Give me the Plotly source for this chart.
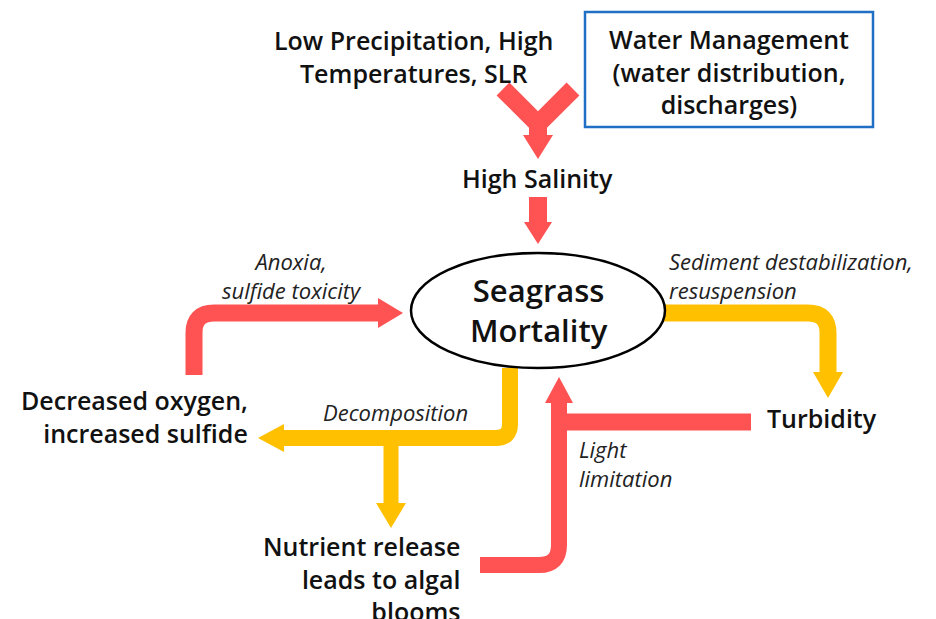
import plotly.graph_objects as go

W, H = 936, 619
OFF = 8  # page body margin offset of the figure in the browser
RED = "#FF5252"
YEL = "#FFC000"
BLUE = "#1F6FC5"
FONT = "Open Sans"

# ---- diagram content (text only) ----
driver_lines = ["Low Precipitation, High", "Temperatures, SLR"]
management_lines = ["Water Management", "(water distribution,", "discharges)"]
salinity_label = "High Salinity"
center_lines = ["Seagrass", "Mortality"]
oxygen_lines = ["Decreased oxygen,", "increased sulfide"]
nutrient_lines = ["Nutrient release", "leads to algal", "blooms"]
turbidity_label = "Turbidity"
anoxia_lines = ["Anoxia,", "sulfide toxicity"]
decomp_lines = ["Decomposition"]
sediment_lines = ["Sediment destabilization,", "resuspension"]
light_lines = ["Light", "limitation"]

fig = go.Figure()
fig.add_trace(go.Scatter(x=[100], y=[100], mode="markers", marker=dict(opacity=0), hoverinfo="skip", showlegend=False))

shapes = []


def rounded_path(pts, r):
    d = f"M {pts[0][0]},{pts[0][1]}"
    for i in range(1, len(pts) - 1):
        (x0, y0), (x1, y1), (x2, y2) = pts[i - 1], pts[i], pts[i + 1]
        def toward(ax, ay, bx, by, dist):
            L = ((bx - ax) ** 2 + (by - ay) ** 2) ** 0.5
            return ax + (bx - ax) * dist / L, ay + (by - ay) * dist / L
        a = toward(x1, y1, x0, y0, r)
        b = toward(x1, y1, x2, y2, r)
        d += f" L {a[0]},{a[1]} Q {x1},{y1} {b[0]},{b[1]}"
    d += f" L {pts[-1][0]},{pts[-1][1]}"
    return d


def stroke(pts, color, width, r=18):
    shapes.append(dict(type="path", path=rounded_path(pts, r), line=dict(color=color, width=width),
                       fillcolor="rgba(0,0,0,0)", xref="x", yref="y", layer="below"))


def head(tip, direction, color, half=15, length=25):
    tx, ty = tip
    dx, dy = direction
    bx, by = tx - dx * length, ty - dy * length
    nx, ny = -dy, dx
    p1 = (bx + nx * half, by + ny * half)
    p2 = (bx - nx * half, by - ny * half)
    shapes.append(dict(type="path", path=f"M {tx},{ty} L {p1[0]},{p1[1]} L {p2[0]},{p2[1]} Z",
                       fillcolor=color, line=dict(width=0), xref="x", yref="y", layer="below"))


def poly(pts, color):
    d = "M " + " L ".join(f"{x},{y}" for x, y in pts) + " Z"
    shapes.append(dict(type="path", path=d, fillcolor=color, line=dict(width=0), xref="x", yref="y", layer="below"))


# Y-shaped merge arrow
poly([(496.6, 95.4), (509.4, 82.6), (538, 111.2), (566.6, 82.6), (579.4, 95.4), (547, 127.8),
      (547, 135), (553, 135), (538, 159), (523, 135), (529, 135), (529, 127.8)], RED)

# Salinity -> mortality
stroke([(538, 197), (538, 222)], RED, 18)
head((538, 244), (0, 1), RED, 14, 22)

# Anoxia arrow (from oxygen up and right to ellipse)
stroke([(194, 375), (194, 313), (380, 313)], RED, 17, 20)
head((403, 313), (1, 0), RED, 15, 25)

# Sediment arrow (ellipse -> turbidity)
stroke([(664, 313), (828, 313), (828, 374)], YEL, 17, 20)
head((828, 398), (0, 1), YEL, 15, 26)

# Decomposition arrow
stroke([(510, 368), (510, 438), (283, 438)], YEL, 16, 14)
head((258, 438), (-1, 0), YEL, 14, 26)
stroke([(391, 438), (391, 505)], YEL, 15, 0.1)
head((391, 528), (0, 1), YEL, 15, 25)

# Light limitation arrow (nutrients + turbidity -> ellipse)
stroke([(480, 565), (559, 565), (559, 401)], RED, 16, 20)
stroke([(751, 422), (559, 422)], RED, 17, 0.1)
head((559, 377), (0, -1), RED, 14, 26)

# Ellipse
shapes.append(dict(type="circle", x0=411, x1=665, y0=253, y1=368, line=dict(color="black", width=2.5),
                   fillcolor="white", xref="x", yref="y", layer="above"))

# Water management box
shapes.append(dict(type="rect", x0=585, x1=873, y0=12, y1=127, line=dict(color=BLUE, width=2.5),
                   fillcolor="rgba(0,0,0,0)", xref="x", yref="y"))

ann = []


def text(lines, x, y, size=25, anchor="center", bold=True, italic=False, color="#111111"):
    ann.append(dict(text="<br>".join(lines), x=x, y=y, xref="x", yref="y", showarrow=False,
                    xanchor=anchor, yanchor="middle", align=anchor,
                    borderpad=0,
                    font=dict(family=FONT, size=size, color=color, weight=600 if bold else "normal",
                              style="italic" if italic else "normal")))


B = 25
IT = 22
text(driver_lines, 413, 56, B)
text(management_lines, 729, 71.5, B)
text([salinity_label], 537, 178, B)
text(center_lines, 539, 309.5, 31)
text(oxygen_lines, 249, 416, B, anchor="right")
text(nutrient_lines, 461, 578, B, anchor="right")
text([turbidity_label], 766, 418, B, anchor="left")
text(anoxia_lines, 292, 275.5, IT, bold=False, italic=True, color="#222222")
text(decomp_lines, 395, 412, IT, bold=False, italic=True, color="#222222")
text(sediment_lines, 668, 275.5, IT, anchor="left", bold=False, italic=True, color="#222222")
text(light_lines, 578, 463.5, IT, anchor="left", bold=False, italic=True, color="#222222")

fig.update_layout(
    width=W, height=H, margin=dict(l=0, r=0, t=0, b=0),
    paper_bgcolor="white", plot_bgcolor="white",
    xaxis=dict(range=[OFF, W + OFF], visible=False, fixedrange=True),
    yaxis=dict(range=[H + OFF, OFF], visible=False, fixedrange=True),
    shapes=shapes, annotations=ann, showlegend=False,
)
fig.write_html("out.html")
